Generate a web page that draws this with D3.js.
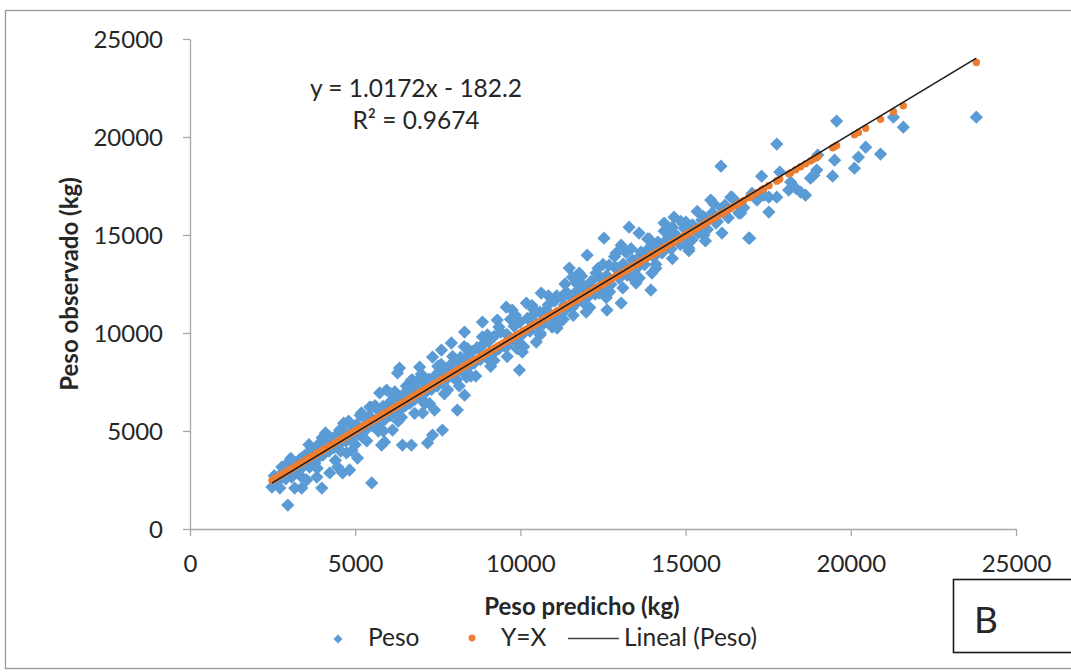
<!DOCTYPE html>
<html>
<head>
<meta charset="utf-8">
<script src="https://cdn.jsdelivr.net/npm/d3@7"></script>
<style>
  body { margin: 0; background: #fff; }
  svg text { font-family: Lato, "Open Sans", sans-serif; fill: #262626; }
  .axis path, .axis line { stroke: #a6a6a6; stroke-width: 1.3; }
</style>
</head>
<body>
<svg id="chart" width="1071" height="672"></svg>
<script>

var xTicks = [ 0, 5000, 10000, 15000, 20000, 25000 ];
var yTicks = [ 0, 5000, 10000, 15000, 20000, 25000 ];

// [peso predicho, peso observado] in kg
var peso = [
	[2480,2140],[2720,2090],[2960,1220],[3170,2090],[3380,2090],[3990,2090],[2780,3160],[2960,3370],
	[3380,3620],[3680,4130],[3930,4390],[4230,2860],[4470,3160],[4620,2860],[4830,3010],[5070,3620],
	[4230,4690],[4530,5050],[4830,5410],[5190,5920],[5440,6220],[5740,6940],[5500,2350],[5800,4280],
	[6430,4280],[6700,4280],[6130,5050],[6280,7960],[6700,7600],[5650,5200],[5220,4690],[3840,2650],
	[3530,2500],[3260,2910],[3080,2650],[4740,3880],[4020,3770],[3620,3160],[5950,5920],[6040,6430],
	[6640,6430],[6860,7090],[6340,8210],[5950,7090],[5830,6170],[5890,4440],[7190,4390],[7340,4790],
	[7640,5050],[7400,6070],[8090,6070],[8310,6830],[7040,6580],[6730,7600],[6950,8260],[7340,8770],
	[7610,9130],[7910,9490],[8310,10050],[8060,8260],[7760,7960],[8460,8980],[8760,9230],[8850,10560],
	[9060,9790],[9300,10660],[9570,11320],[9750,11170],[9970,9490],[9970,8110],[10060,9030],[10480,9540],
	[10630,12040],[10780,11170],[10960,10300],[11110,10250],[11390,12090],[11570,12850],[11690,11530],[10180,11530],
	[10360,10660],[9270,9130],[8370,7750],[6130,6430],[7040,5920],[9060,8620],[9570,9280],[8060,7600],
	[11480,13310],[11780,13060],[12020,13970],[12530,14840],[12900,14080],[13050,14480],[13290,15400],[13590,15100],
	[13650,14130],[13980,14480],[14350,15610],[14650,15910],[15010,15660],[15310,15250],[15490,15760],[15760,16780],
	[16100,16370],[16370,16930],[16670,16120],[16910,14840],[15920,15610],[15550,14990],[15100,14330],[14800,14640],
	[13980,13060],[13500,12550],[13950,12190],[13050,11530],[12620,11170],[11990,11070],[12380,12040],[12080,12340],
	[11630,11680],[11330,11420],[13230,12950],[12930,13310],[12680,13460],[12290,13060],[11690,12550],[14500,14890],
	[14190,14380],[13800,13870],[15190,14740],
	[19570,20810],[17760,19640],[21590,20500],[21290,21010],[20450,19480],[20900,19130],[20230,18970],[20110,18410],
	[19510,18820],[19450,18000],[18970,18310],[18880,18050],[18780,17900],[17850,18210],[17300,18000],[18180,17700],
	[18330,17390],[18630,17030],[18480,17190],[18120,17290],[17760,16930],[17520,16930],[17370,17030],[17060,17030],
	[17520,16170],[16610,16120],[16400,16930],[16940,14840],[19000,19080],[23800,21010],[16070,18510],
	[2550,2720],[2640,2380],[2830,2950],[2900,2560],[3020,3150],[3120,2780],[3190,3380],[3260,3050],
	[3330,3560],[3420,3180],[3480,3760],[3560,3330],[3640,3920],[3710,3480],[3780,3350],[3830,4060],
	[3910,3690],[3990,4250],[4060,3840],[4130,4470],[4210,3980],[4290,4620],[4360,4150],[4420,4760],
	[4510,4310],[4560,3980],[4660,4950],[4720,4480],[4790,4630],[4880,5270],[4960,4720],[5040,5330],
	[5110,4830],[5210,5060],[5290,5650],[5360,5120],[5430,5760],[5510,5280],[5590,5520],[5680,6080],
	[5760,5420],[5840,6250],[5910,5610],[6000,6380],[6070,5790],[6160,6650],[6220,6030],[6310,6520],
	[6370,6090],[6450,6860],[6520,6290],[6590,6950],[6660,6420],[6740,7260],[6810,6620],[6890,7050],
	[6980,6780],[7060,7450],[7140,6990],[7230,7640],[7310,7120],[7390,7780],[7480,7290],[7560,8050],
	[7640,7480],[7710,8130],[7790,7690],[7870,8350],[7940,7780],[8010,8460],[8090,7990],[8190,8750],
	[8260,8090],[8340,8640],[8440,8280],[8540,9060],[8610,8470],[8690,9250],[8790,8660],[8880,9430],
	[8960,8780],[9040,9560],[9140,8990],[9210,9840],[9340,9180],[9410,10050],[9490,9370],[9590,9930],
	[9690,9520],[9810,10340],[9890,9680],[9990,10560],[10090,9980],[10210,10740],[10290,10090],[10390,10930],
	[10510,10380],[10590,11060],[10710,10490],[10840,11430],[10940,10780],[11040,11640],[11160,10970],[11260,11820],
	[11360,11190],[11440,11960],[11560,11280],[11710,12140],[11840,11690],[11910,12320],[12010,11780],[12140,12630],
	[12260,11990],[12390,12830],[12490,12280],[12610,12940],[12740,12480],[12860,13340],[12990,12790],[13110,13520],
	[13240,13080],[13390,13730],[13510,13280],[13640,13950],[13760,13490],[13890,14320],[14040,13880],[14160,14640],
	[14290,14090],[14410,14730],[14560,14280],[14690,15040],[14840,14510],[14960,15330],[15060,14790],[15210,15520],
	[15390,15090],[15540,15940],[15660,15280],[15810,16140],[15960,15690],[16190,16520],[16290,15880],[16510,16740],
	[16760,16390],[17010,17120],[17160,16780],
	[3050,3600],[3350,2700],[3600,4300],[3850,3100],[4100,4900],[4400,3500],[4650,5400],[4900,4000],
	[5150,5800],[5350,4500],[5600,6300],[5850,5000],[6100,6900],[6300,5500],[6550,7300],[6800,5900],
	[7000,7900],[7250,6400],[7500,8300],[7700,6900],[7950,8800],[8150,7300],[8400,9200],[8650,7800],
	[8850,9800],[9100,8300],[9350,10300],[9600,8800],[9850,10900],[10100,9300],[10350,11400],[10600,9900],
	[10850,11900],[11100,10400],[11350,12500],[11600,10900],[11850,12900],[12100,11300],[12350,13300],[12600,11800],
	[12850,13900],[13100,12300],[13350,14300],[13600,12800],[13850,14800],[14100,13300],[14350,15200],[14600,13800],
	[14850,15700],[15100,14200],[15350,16200],[15600,14700],[15850,16600],[16100,15100],
	[4000,4650],[4800,5500],[5500,6200],[6200,7000],[6900,7600],[7600,8400],[8300,9300],[9000,9900],
	[9700,10700],[10400,11200],[11100,11900],[11800,12600],[12500,13500],[13200,14100],[13900,14800],[14600,15400],
	[5000,4300],[5700,5000],[6400,5700],[7100,6400],[7800,7100],[8500,7800],[9200,8600],[9900,9200],
	[10600,10000],[11300,10700],[12000,11400],[12700,12100],[13400,12800],[14100,13500]
];

var trend = { slope: 1.0172, intercept: -182.2 };
var equationLines = [ 'y = 1.0172x - 182.2', 'R² = 0.9674' ];
var legendLabels = [ 'Peso', 'Y=X', 'Lineal (Peso)' ];
var xTitle = 'Peso predicho (kg)';
var yTitle = 'Peso observado (kg)';
var panelLabel = 'B';

var blue = '#5b9bd5';
var orange = '#ed7d31';

var svg = d3.select( '#chart' );
var plot = { left: 190, right: 1016, top: 39, bottom: 529 };

var x = d3.scaleLinear().domain( [ 0, 25000 ] ).range( [ plot.left, plot.right ] );
var y = d3.scaleLinear().domain( [ 0, 25000 ] ).range( [ plot.bottom, plot.top ] );

// chart frame
svg.append( 'rect' )
	.attr( 'x', 5.5 ).attr( 'y', 10.5 )
	.attr( 'width', 1080 ).attr( 'height', 658 )
	.attr( 'fill', 'none' ).attr( 'stroke', '#9a9a9a' ).attr( 'stroke-width', 1.3 );

var xAxis = d3.axisBottom( x ).tickValues( xTicks ).tickFormat( d3.format( 'd' ) ).tickSize( 7 ).tickSizeOuter( 0 );
var yAxis = d3.axisLeft( y ).tickValues( yTicks ).tickFormat( d3.format( 'd' ) ).tickSize( 7 ).tickSizeOuter( 0 );

var gx = svg.append( 'g' )
	.attr( 'class', 'axis' )
	.attr( 'transform', 'translate(0,' + plot.bottom + ')' )
	.call( xAxis );
gx.selectAll( 'text' )
	.attr( 'y', 43 ).attr( 'dy', 0 )
	.style( 'font-size', '24px' ).style( 'fill', '#262626' );

var gy = svg.append( 'g' )
	.attr( 'class', 'axis' )
	.attr( 'transform', 'translate(' + plot.left + ',0)' )
	.call( yAxis );
gy.selectAll( 'text' )
	.attr( 'x', -27 ).attr( 'dy', 8.5 )
	.style( 'font-size', '24px' ).style( 'fill', '#262626' );
svg.selectAll( '.axis' ).attr( 'font-family', null );

// Peso series
var diamond = d3.symbol( d3.symbolSquare, 88 );
svg.append( 'g' ).selectAll( 'path' )
	.data( peso )
	.enter()
	.append( 'path' )
	.attr( 'd', diamond )
	.attr( 'fill', blue )
	.attr( 'transform', function ( d ) {
		return 'translate(' + x( d[0] ) + ',' + y( d[1] ) + ') rotate(45)';
	} );

// Y=X series
svg.append( 'g' ).selectAll( 'circle' )
	.data( peso )
	.enter()
	.append( 'circle' )
	.attr( 'cx', function ( d ) { return x( d[0] ); } )
	.attr( 'cy', function ( d ) { return y( d[0] ); } )
	.attr( 'r', 3.7 )
	.attr( 'fill', orange );

// linear trend of Peso
var xExtent = d3.extent( peso, function ( d ) { return d[0]; } );
var trendLine = d3.line()
	.x( function ( d ) { return x( d ); } )
	.y( function ( d ) { return y( trend.slope * d + trend.intercept ); } );
svg.append( 'path' )
	.datum( xExtent )
	.attr( 'd', trendLine )
	.attr( 'fill', 'none' )
	.attr( 'stroke', '#1a1a1a' )
	.attr( 'stroke-width', 1.5 );

// equation
svg.append( 'g' ).selectAll( 'text' )
	.data( equationLines )
	.enter()
	.append( 'text' )
	.attr( 'x', 416 )
	.attr( 'y', function ( d, i ) { return 97 + i * 32; } )
	.attr( 'text-anchor', 'middle' )
	.style( 'font-size', '24.5px' )
	.text( function ( d ) { return d; } );

// axis titles
svg.append( 'text' )
	.attr( 'x', 582 ).attr( 'y', 615 )
	.attr( 'text-anchor', 'middle' )
	.style( 'font-size', '24px' ).style( 'font-weight', 'bold' )
	.text( xTitle );

svg.append( 'text' )
	.attr( 'transform', 'translate(78,' + ( ( plot.top + plot.bottom ) / 2 ) + ') rotate(-90)' )
	.attr( 'text-anchor', 'middle' )
	.style( 'font-size', '24px' ).style( 'font-weight', 'bold' )
	.text( yTitle );

// legend
var legend = svg.append( 'g' );
legend.append( 'path' )
	.attr( 'd', d3.symbol( d3.symbolSquare, 40 ) )
	.attr( 'fill', blue )
	.attr( 'transform', 'translate(338,639) rotate(45)' );
legend.append( 'text' ).attr( 'x', 368 ).attr( 'y', 646 ).style( 'font-size', '24.5px' ).text( legendLabels[0] );
legend.append( 'circle' ).attr( 'cx', 472 ).attr( 'cy', 638 ).attr( 'r', 3.4 ).attr( 'fill', orange );
legend.append( 'text' ).attr( 'x', 501 ).attr( 'y', 646 ).style( 'font-size', '24.5px' ).text( legendLabels[1] );
legend.append( 'line' )
	.attr( 'x1', 568 ).attr( 'x2', 619 ).attr( 'y1', 638.5 ).attr( 'y2', 638.5 )
	.attr( 'stroke', '#404040' ).attr( 'stroke-width', 1.5 );
legend.append( 'text' ).attr( 'x', 624 ).attr( 'y', 646 ).style( 'font-size', '24.5px' ).text( legendLabels[2] );

// panel label box
svg.append( 'rect' )
	.attr( 'x', 953.5 ).attr( 'y', 579.5 )
	.attr( 'width', 130 ).attr( 'height', 73 )
	.attr( 'fill', '#fff' ).attr( 'stroke', '#1a1a1a' ).attr( 'stroke-width', 1.6 );
svg.append( 'text' )
	.attr( 'x', 974 ).attr( 'y', 633 )
	.style( 'font-size', '37px' )
	.text( panelLabel );

</script>
</body>
</html>
